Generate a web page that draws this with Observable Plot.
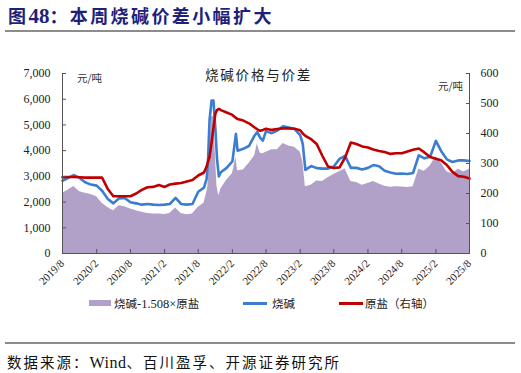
<!DOCTYPE html>
<html><head><meta charset="utf-8">
<script src="https://cdn.jsdelivr.net/npm/d3@7"></script>
<script src="https://cdn.jsdelivr.net/npm/@observablehq/plot@0.6"></script>
<style>
body{margin:0;background:#fff;}
#wrap{position:relative;width:521px;height:373px;overflow:hidden;background:#fff;}
.abs{position:absolute;white-space:nowrap;}
#title{left:8px;top:2px;font-family:"Noto Sans CJK SC";font-weight:bold;font-size:18px;letter-spacing:2.4px;color:#1d1f7a;}
#title .n{font-family:"Liberation Serif";font-weight:bold;font-size:21px;letter-spacing:0;}
.hr{position:absolute;left:5px;width:510px;height:2px;background:#8c8c8c;}
#src{left:7px;top:351px;font-family:"Noto Sans CJK SC";font-size:14.5px;letter-spacing:2px;color:#111;}
#src .w{font-family:"Liberation Serif";font-size:16px;letter-spacing:0.5px;}
#ctitle{left:205px;top:64px;font-family:"Noto Sans CJK SC";font-size:13.5px;letter-spacing:1.8px;color:#222;}
.unit{font-family:"Noto Sans CJK SC";font-size:10.5px;color:#333;}
.leg{font-family:"Noto Sans CJK SC";font-size:11.5px;color:#222;top:295px;}
.leg .s{font-family:"Liberation Serif";font-size:12.5px;}
#chart{position:absolute;left:0;top:55px;}
</style></head>
<body><div id="wrap">
<div id="title" class="abs">图<span class="n">48</span>：本周烧碱价差小幅扩大</div>
<div class="hr" style="top:30px"></div>
<div id="chart"></div>
<div id="ctitle" class="abs">烧碱价格与价差</div>
<div class="abs unit" style="left:77px;top:70px">元/吨</div>
<div class="abs unit" style="left:438px;top:78px">元/吨</div>
<div class="abs" style="left:89px;top:300px;width:22px;height:6px;background:#b1a0c7"></div>
<div class="abs leg" style="left:114px">烧碱<span class="s">-1.508×</span>原盐</div>
<div class="abs" style="left:243px;top:302px;width:24px;height:3px;background:#3b7dd0"></div>
<div class="abs leg" style="left:272px">烧碱</div>
<div class="abs" style="left:339px;top:302px;width:24px;height:3px;background:#c00000"></div>
<div class="abs leg" style="left:365px">原盐（右轴）</div>
<div class="hr" style="top:342px"></div>
<div id="src" class="abs">数据来源：<span class="w">Wind</span>、百川盈孚、开源证券研究所</div>
</div>
<script>
const dates = ["2019-08-01","2019-09-01","2019-10-01","2019-11-01","2019-12-01","2020-01-01","2020-02-01","2020-03-01","2020-04-01","2020-05-01","2020-06-01","2020-07-01","2020-08-01","2020-09-01","2020-10-01","2020-11-01","2020-12-01","2021-01-01","2021-02-01","2021-03-01","2021-04-01","2021-05-01","2021-06-01","2021-07-01","2021-08-01","2021-09-01","2021-09-15","2021-09-22","2021-10-01","2021-10-12","2021-10-22","2021-11-01","2021-11-10","2021-11-20","2021-12-01","2022-01-01","2022-02-01","2022-02-20","2022-03-01","2022-04-01","2022-05-01","2022-06-01","2022-06-15","2022-07-01","2022-07-15","2022-08-01","2022-09-01","2022-10-01","2022-11-01","2022-12-01","2023-01-01","2023-02-01","2023-02-15","2023-03-01","2023-04-01","2023-05-01","2023-06-01","2023-07-01","2023-08-01","2023-09-01","2023-10-01","2023-11-01","2023-12-01","2024-01-01","2024-02-01","2024-03-01","2024-04-01","2024-05-01","2024-06-01","2024-07-01","2024-08-01","2024-09-01","2024-10-01","2024-11-01","2024-12-01","2025-01-01","2025-02-01","2025-03-01","2025-04-01","2025-05-01","2025-06-01","2025-07-01","2025-08-01"];
const causticSoda = [2830,2940,3050,2940,2770,2680,2640,2440,2120,1950,2145,2160,1990,1950,1900,1925,1900,1885,1900,1925,2160,1925,1900,1925,2400,2560,2900,3500,5200,5950,5950,4900,3700,3000,3160,3330,3580,4650,4000,4070,4180,4590,4720,4500,4390,4760,4680,4780,4950,4900,4850,4600,4260,3250,3400,3320,3300,3300,3380,3680,3800,3330,3330,3270,3330,3440,3390,3220,3150,3100,3110,3090,3130,3820,3700,3760,4380,3990,3660,3560,3620,3620,3600];
const rawSalt = [254,255,255,254,253,253,253,253,215,191,191,191,191,200,212,221,222,228,222,230,233,235,240,245,260,270,290,305,322,370,420,465,478,482,478,470,462,452,448,443,434,420,414,409,412,416,412,415,417,417,416,411,400,392,381,365,325,290,285,287,320,370,365,357,353,347,342,338,332,334,334,340,346,350,337,322,316,311,295,272,258,256,250];
const spread = [2340,2470,2610,2400,2340,2290,2210,1950,1790,1660,1860,1820,1730,1660,1600,1560,1535,1535,1520,1560,1770,1560,1510,1535,1800,1950,2350,2600,4000,5300,5350,3900,2600,2250,2510,2850,3100,3740,3220,3250,3500,3800,4260,3900,3880,3940,4030,4030,4280,4180,4130,3950,3600,2600,2650,2820,2800,2950,3070,3180,3290,2800,2760,2650,2720,2800,2700,2620,2580,2600,2590,2570,2600,3280,3200,3400,3760,3530,3180,3090,3280,3170,3280];
const xTicks = ["2019-08-01","2020-02-01","2020-08-01","2021-02-01","2021-08-01","2022-02-01","2022-08-01","2023-02-01","2023-08-01","2024-02-01","2024-08-01","2025-02-01","2025-08-01"];
const leftTicks = [0,1000,2000,3000,4000,5000,6000,7000];
const rightTicks = [0,100,200,300,400,500,600];

const LMAX = 7000, RMAX = 600, k = LMAX / RMAX;
const data = dates.map((d, i) => ({date: new Date(d), soda: causticSoda[i], salt: rawSalt[i], spread: spread[i]}));
const x0 = new Date("2019-08-01"), x1 = new Date("2025-08-01");
const axisColor = "#555";

const chart = Plot.plot({
  width: 521, height: 240,
  marginLeft: 62, marginRight: 52, marginTop: 18, marginBottom: 42,
  style: {fontFamily: "Liberation Serif", fontSize: "12px", color: "#222", background: "transparent"},
  x: {type: "utc", domain: [x0, x1]},
  y: {domain: [0, LMAX]},
  marks: [
    Plot.areaY(data, {x: "date", y: "spread", fill: "#b1a0c7"}),
    Plot.lineY(data, {x: "date", y: "soda", stroke: "#3b7dd0", strokeWidth: 2.6}),
    Plot.lineY(data, {x: "date", y: d => d.salt * k, stroke: "#c00000", strokeWidth: 2.6}),
    Plot.ruleX([x0], {stroke: axisColor}),
    Plot.ruleX([x1], {stroke: axisColor}),
    Plot.ruleY([0], {stroke: axisColor}),
    Plot.axisY(leftTicks, {anchor: "left", tickSize: -4, tickPadding: 16, stroke: axisColor, tickFormat: d3.format(","), fontSize: 12, label: null}),
    Plot.axisY(rightTicks.map(v => v * k), {anchor: "right", tickSize: -4, tickPadding: 15, stroke: axisColor, tickFormat: d => String(Math.round(d / k)), fontSize: 12, label: null}),
    Plot.axisX(xTicks.map(d => new Date(d)), {anchor: "bottom", tickSize: -4, tickPadding: 12, tickRotate: -45, stroke: axisColor, tickFormat: d3.utcFormat("%Y/%-m"), fontSize: 11, label: null})
  ]
});
document.getElementById("chart").appendChild(chart);
</script>
</body></html>
